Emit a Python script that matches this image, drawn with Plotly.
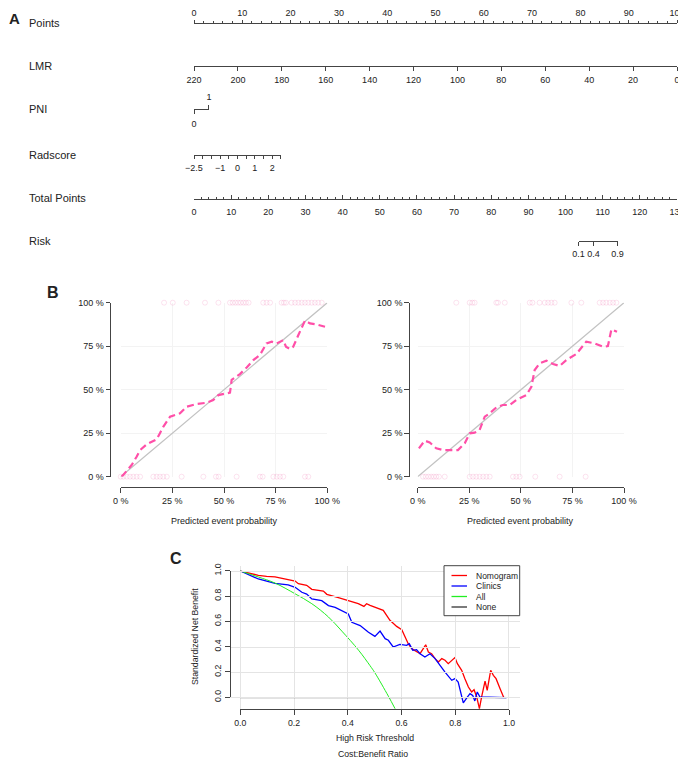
"""Nomogram (A), calibration curves (B) and decision curves (C) drawn with Plotly."""

import plotly.graph_objects as go

# ---------------- data ----------------
# panel A: nomogram scales
nomo_rows = ["Points", "LMR", "PNI", "Radscore", "Total Points", "Risk"]
points_ticks = [0, 10, 20, 30, 40, 50, 60, 70, 80, 90, 100]
lmr_ticks = [220, 200, 180, 160, 140, 120, 100, 80, 60, 40, 20, 0]
lmr_range = [220, 0]  # LMR value sitting at 0 and at 100 points
pni_levels = [0, 1]
pni_points = [0, 3.1]
radscore_ticks = [-2.5, -2, -1.5, -1, -0.5, 0, 0.5, 1, 1.5, 2, 2.5]
radscore_labels = ["−2.5", "", "", "−1", "", "0", "", "1", "", "2", ""]
radscore_points = [0, 18]
total_ticks = [0, 10, 20, 30, 40, 50, 60, 70, 80, 90, 100, 110, 120, 130]
risk_labels = ["0.1", "0.4", "0.9"]
risk_total_points = [103.5, 107.5, 114.0]

# panel B: calibration
cal_ticks = [0, 0.25, 0.5, 0.75, 1]
cal_labels = ["0 %", "25 %", "50 %", "75 %", "100 %"]
ideal = [0, 1]

cal1_x = [0.005, 0.03, 0.053, 0.077, 0.094, 0.126, 0.174, 0.19, 0.206, 0.239,
          0.287, 0.319, 0.368, 0.416, 0.448, 0.473, 0.513, 0.529, 0.537, 0.577,
          0.61, 0.642, 0.674, 0.706, 0.731, 0.755, 0.787, 0.8, 0.819, 0.835,
          0.86, 0.892, 0.916, 0.948, 0.989]
cal1_y = [0.0, 0.038, 0.067, 0.115, 0.153, 0.186, 0.215, 0.25, 0.287, 0.345,
          0.364, 0.402, 0.418, 0.425, 0.44, 0.469, 0.479, 0.483, 0.556, 0.59,
          0.628, 0.67, 0.7, 0.766, 0.776, 0.766, 0.785, 0.747, 0.734, 0.747,
          0.814, 0.897, 0.881, 0.875, 0.862]
cal1_events = [0.21, 0.252, 0.319, 0.408, 0.473, 0.529, 0.542, 0.555, 0.568,
               0.581, 0.594, 0.606, 0.619, 0.69, 0.706, 0.723, 0.779, 0.79,
               0.8, 0.827, 0.844, 0.86, 0.876, 0.892, 0.908, 0.924, 0.94,
               0.956, 0.973]
cal1_nonevents = [0.0, 0.013, 0.029, 0.045, 0.061, 0.077, 0.094, 0.158, 0.174,
                  0.19, 0.206, 0.223, 0.295, 0.4, 0.461, 0.474, 0.561, 0.674,
                  0.687, 0.739, 0.755, 0.771, 0.787, 0.892, 0.908]

cal2_x = [0.006, 0.034, 0.058, 0.09, 0.123, 0.155, 0.195, 0.228, 0.252, 0.276,
          0.3, 0.325, 0.349, 0.381, 0.413, 0.446, 0.478, 0.527, 0.551, 0.567,
          0.591, 0.624, 0.656, 0.688, 0.72, 0.769, 0.817, 0.858, 0.898, 0.922,
          0.939, 0.966]
cal2_y = [0.163, 0.207, 0.197, 0.163, 0.153, 0.153, 0.153, 0.192, 0.249, 0.253,
          0.268, 0.345, 0.364, 0.398, 0.412, 0.412, 0.441, 0.469, 0.517, 0.613,
          0.651, 0.667, 0.648, 0.636, 0.67, 0.705, 0.776, 0.766, 0.747, 0.751,
          0.847, 0.833]
cal2_events = [0.187, 0.252, 0.265, 0.276, 0.381, 0.389, 0.422, 0.543, 0.556,
               0.591, 0.616, 0.632, 0.648, 0.664, 0.745, 0.793, 0.882, 0.898,
               0.914, 0.931, 0.947, 0.963]
cal2_nonevents = [0.026, 0.039, 0.052, 0.065, 0.078, 0.09, 0.103, 0.131, 0.252,
                  0.268, 0.284, 0.3, 0.317, 0.333, 0.349, 0.462, 0.478, 0.494,
                  0.57, 0.688, 0.814]

# panel C: decision curves
dca_ticks = [0, 0.2, 0.4, 0.6, 0.8, 1.0]
dca_labels = ["0.0", "0.2", "0.4", "0.6", "0.8", "1.0"]
dca_names = ["Nomogram", "Clinics", "All", "None"]
dca_colors = ["#ff0000", "#0000ff", "#22ee22", "#333333"]

nomogram_x = [0, 0.048, 0.067, 0.098, 0.129, 0.204, 0.216, 0.247, 0.266, 0.309,
              0.322, 0.365, 0.402, 0.439, 0.46, 0.47, 0.483, 0.501, 0.532, 0.557,
              0.582, 0.601, 0.613, 0.625, 0.638, 0.656, 0.669, 0.681, 0.69, 0.7,
              0.712, 0.725, 0.737, 0.75, 0.762, 0.774, 0.787, 0.799, 0.808,
              0.824, 0.836, 0.849, 0.861, 0.87, 0.88, 0.89, 0.898, 0.911, 0.919,
              0.932, 0.942, 0.952, 0.967, 0.981]
nomogram_y = [1.0, 0.974, 0.966, 0.958, 0.953, 0.921, 0.9, 0.887, 0.855, 0.842,
              0.816, 0.79, 0.769, 0.742, 0.721, 0.742, 0.729, 0.716, 0.69, 0.611,
              0.563, 0.537, 0.479, 0.426, 0.387, 0.36, 0.347, 0.387, 0.418, 0.36,
              0.347, 0.308, 0.281, 0.308, 0.295, 0.268, 0.295, 0.316, 0.268,
              0.216, 0.15, 0.084, 0.045, 0.063, 0.005, -0.087, 0.005, 0.131,
              0.058, 0.216, 0.176, 0.15, 0.071, 0.0]

clinics_x = [0, 0.067, 0.129, 0.178, 0.204, 0.229, 0.247, 0.266, 0.303, 0.328,
             0.353, 0.378, 0.402, 0.415, 0.446, 0.477, 0.488, 0.501, 0.52, 0.539,
             0.551, 0.569, 0.594, 0.619, 0.629, 0.642, 0.656, 0.669, 0.687,
             0.706, 0.725, 0.743, 0.762, 0.787, 0.799, 0.811, 0.82, 0.83, 0.845,
             0.855, 0.865, 0.873, 0.882, 0.892, 0.991]
clinics_y = [1.0, 0.937, 0.903, 0.89, 0.871, 0.832, 0.818, 0.779, 0.766, 0.727,
             0.713, 0.687, 0.661, 0.595, 0.569, 0.516, 0.5, 0.484, 0.526, 0.466,
             0.453, 0.4, 0.421, 0.413, 0.426, 0.374, 0.379, 0.347, 0.321, 0.347,
             0.308, 0.255, 0.202, 0.137, 0.15, 0.123, 0.045, -0.042, 0.005,
             0.032, 0.018, -0.026, 0.045, 0.005, 0.0]

all_x = [0, 0.067, 0.129, 0.204, 0.266, 0.328, 0.378, 0.44, 0.483, 0.501, 0.551, 0.576]
all_y = [1.0, 0.953, 0.905, 0.82, 0.742, 0.637, 0.525, 0.375, 0.252, 0.196, 0.012, -0.087]

none_x = [0, 0.99]
none_y = [0, 0]

# ---------------- geometry / style ----------------
# positions below are measured on the 686x760 page; the page body adds an
# 8px margin, so the figure itself is a bit smaller and shifted back by it
PAGE_W, PAGE_H = 686, 760
OFF = 8
W, H = PAGE_W - OFF, PAGE_H - OFF
FONT = "Arial, Liberation Sans, sans-serif"
NARROW = "Liberation Sans Narrow, Arial Narrow, Liberation Sans, sans-serif"
INK = "#444444"
TEXT = "#222222"
PINK = "#ff4fa8"
RUG = "rgba(240, 110, 175, 0.22)"

NOMO_LEFT, NOMO_RIGHT = 194, 677
ROW_Y = [23, 66, 109, 154.5, 198.5, 241]


def fx(x_px):
    return (x_px - OFF) / W


def fy(y_px):
    return 1 - (y_px - OFF) / H


def nomo_x(points, full=100):
    return NOMO_LEFT + (NOMO_RIGHT - NOMO_LEFT) * points / full


def scale_axis(**kw):
    ax = dict(showline=True, linecolor=INK, linewidth=1, ticks="outside",
              tickcolor=INK, tickwidth=1, ticklen=4, showgrid=False,
              zeroline=False, fixedrange=True, anchor="free", tickmode="array",
              automargin=False, tickangle=0,
              tickfont=dict(family=FONT, size=9, color=TEXT))
    ax.update(kw)
    return ax


def hook(xa, ya):
    # invisible trace so that every free axis gets a subplot
    return go.Scatter(x=[None], y=[None], xaxis=xa, yaxis=ya, mode="markers",
                      showlegend=False, hoverinfo="skip")


def text(x_px, y_px, s, size=9, **kw):
    a = dict(x=fx(x_px), y=fy(y_px), xref="paper", yref="paper", text=s,
             showarrow=False, font=dict(family=FONT, size=size, color=TEXT),
             xanchor="center", yanchor="middle")
    a.update(kw)
    return a


fig = go.Figure()
fig.add_trace(hook("x", "y"))
for i in range(2, 9):
    fig.add_trace(hook(f"x{i}", "y"))

# ---------------- panel B traces ----------------
cal_panels = [
    ("x9", "y9", cal1_x, cal1_y, cal1_events, cal1_nonevents),
    ("x10", "y10", cal2_x, cal2_y, cal2_events, cal2_nonevents),
]
for xa, ya, cx, cy, ev, nev in cal_panels:
    fig.add_trace(go.Scatter(x=ideal, y=ideal, xaxis=xa, yaxis=ya, mode="lines",
                             line=dict(color="#c2c2c2", width=1.3),
                             showlegend=False, hoverinfo="skip"))
    for xs, outcome in ((ev, 1), (nev, 0)):
        fig.add_trace(go.Scatter(
            x=xs, y=[outcome] * len(xs), xaxis=xa, yaxis=ya, mode="markers",
            marker=dict(symbol="circle-open", size=5, color=RUG,
                        line=dict(width=0.9, color=RUG)),
            cliponaxis=False, showlegend=False, hoverinfo="skip"))
    fig.add_trace(go.Scatter(x=cx, y=cy, xaxis=xa, yaxis=ya, mode="lines",
                             line=dict(color=PINK, width=2.2, dash="7px,4px"),
                             cliponaxis=False, showlegend=False))

# ---------------- panel C traces ----------------
dca_series = [(nomogram_x, nomogram_y, 1.3), (clinics_x, clinics_y, 1.3),
              (all_x, all_y, 1.0), (none_x, none_y, 1.0)]
for (sx, sy, lw), name, color in zip(dca_series, dca_names, dca_colors):
    fig.add_trace(go.Scatter(x=sx, y=sy, xaxis="x11", yaxis="y11", mode="lines",
                             name=name, line=dict(color=color, width=lw),
                             line_shape="spline" if name == "All" else "linear",
                             showlegend=False))
fig.add_trace(hook("x12", "y11"))
fig.add_trace(hook("x11", "y12"))

# ---------------- axes ----------------
full_dom = [fx(nomo_x(0)), fx(nomo_x(100))]
hidden = dict(visible=False, domain=[0, 1], range=[0, 1], fixedrange=True,
              automargin=False)
axes = dict(
    xaxis=dict(hidden),
    yaxis=dict(hidden),
    # Points (labels pulled close to the line so they stay inside the page)
    xaxis2=scale_axis(domain=full_dom, range=[points_ticks[0], points_ticks[-1]],
                      position=fy(ROW_Y[0]), side="top", tickvals=points_ticks,
                      ticklen=3.5, ticklabelstandoff=0,
                      minor=dict(ticks="outside", tick0=0, dtick=2, ticklen=2,
                                 tickcolor=INK)),
    # LMR
    xaxis3=scale_axis(domain=full_dom, range=lmr_range, position=fy(ROW_Y[1]),
                      side="bottom", tickvals=lmr_ticks, ticklabelstandoff=1),
    # PNI (tick down at 0, tick up at 1)
    xaxis4=scale_axis(domain=[fx(nomo_x(pni_points[0])), fx(nomo_x(pni_points[1]))],
                      range=pni_levels, position=fy(ROW_Y[2]), side="bottom",
                      tickvals=[pni_levels[0]], ticktext=[str(pni_levels[0])],
                      ticklabelstandoff=2),
    xaxis5=scale_axis(domain=[fx(nomo_x(pni_points[0])), fx(nomo_x(pni_points[1]))],
                      range=pni_levels, position=fy(ROW_Y[2]), side="top",
                      tickvals=[pni_levels[1]], ticktext=[str(pni_levels[1])],
                      ticklabelstandoff=1),
    # Radscore
    xaxis6=scale_axis(domain=[fx(nomo_x(radscore_points[0])),
                              fx(nomo_x(radscore_points[1]))],
                      range=[radscore_ticks[0], radscore_ticks[-1]],
                      position=fy(ROW_Y[3]), side="bottom", ticklen=3.5,
                      tickvals=radscore_ticks, ticktext=radscore_labels,
                      ticklabelstandoff=1),
    # Total Points
    xaxis7=scale_axis(domain=full_dom, range=[total_ticks[0], total_ticks[-1]],
                      position=fy(ROW_Y[4]), side="bottom", ticks="inside",
                      ticklen=3.5, tickvals=total_ticks, ticklabelstandoff=5,
                      tickfont=dict(family=NARROW, size=9, color=TEXT),
                      minor=dict(ticks="inside", tick0=0, dtick=2, ticklen=2,
                                 tickcolor=INK)),
    # Risk
    xaxis8=scale_axis(domain=[fx(nomo_x(risk_total_points[0], total_ticks[-1])),
                              fx(nomo_x(risk_total_points[-1], total_ticks[-1]))],
                      range=[risk_total_points[0], risk_total_points[-1]],
                      position=fy(ROW_Y[5]), side="bottom", ticklen=3.5,
                      tickvals=risk_total_points, ticktext=risk_labels,
                      ticklabelstandoff=1),
)

cal_geom = [("9", 120.7, 327.3, 110), ("10", 417.7, 624, 408.7)]
for n, left, right, yline in cal_geom:
    axes["xaxis" + n] = scale_axis(domain=[fx(left), fx(right)], range=[0, 1],
                                   position=fy(487), tickvals=cal_ticks,
                                   ticktext=cal_labels, ticklen=5,
                                   showgrid=True, gridcolor="#f3f3f3")
    axes["yaxis" + n] = scale_axis(domain=[fy(476.7), fy(302.7)], range=[0, 1],
                                   position=fx(yline), tickvals=cal_ticks,
                                   ticktext=cal_labels, ticklen=4.5,
                                   showgrid=True, gridcolor="#f3f3f3")

grid_c = dict(showline=False, ticks="", showticklabels=False, showgrid=True,
              gridcolor="#e4e4e4", tickmode="array", tickvals=dca_ticks,
              zeroline=False, fixedrange=True, automargin=False)
axes["xaxis11"] = dict(grid_c, domain=[fx(229.6), fx(519.7)],
                       range=[-0.04, 1.04], anchor="y11")
axes["yaxis11"] = dict(grid_c, domain=[fy(709.3), fy(565.7)],
                       range=[-0.092, 1.042], anchor="x11")
axes["xaxis12"] = scale_axis(domain=[fx(240.3), fx(509)], range=[0, 1],
                             position=fy(709.3), tickvals=dca_ticks,
                             ticktext=dca_labels, ticklen=5,
                             tickfont=dict(family=FONT, size=8.7, color=TEXT))
axes["yaxis12"] = scale_axis(domain=[fy(697.3), fy(570.7)], range=[0, 1],
                             position=fx(229.6), tickvals=dca_ticks,
                             ticktext=dca_labels, ticklen=5, tickangle=-90,
                             tickfont=dict(family=FONT, size=8.7, color=TEXT))

# ---------------- text ----------------
notes = [
    text(14, 18.5, "<b>A</b>", 15),
    text(53, 293, "<b>B</b>", 16),
    text(176, 558, "<b>C</b>", 16),
    text(224, 521, "Predicted event probability", 9),
    text(520, 521, "Predicted event probability", 9),
    text(375, 737.5, "High Risk Threshold", 8.7),
    text(373, 753.5, "Cost:Benefit Ratio", 8.7),
    text(195, 637, "Standardized Net Benefit", 8.7, textangle=-90),
]
for label, y in zip(nomo_rows, ROW_Y):
    notes.append(text(27, y, label, 11, xanchor="left"))

# hand-drawn legend box for panel C (R-style)
LEG_L, LEG_R, LEG_T, LEG_B = 444, 519.7, 565.7, 615.7
LEG_ROWS = [575.5, 586, 596.5, 607]
shapes = [dict(type="rect", xref="paper", yref="paper", x0=fx(LEG_L), x1=fx(LEG_R),
               y0=fy(LEG_B), y1=fy(LEG_T), line=dict(color=INK, width=1),
               fillcolor="white", layer="above")]
for name, color, y in zip(dca_names, dca_colors, LEG_ROWS):
    shapes.append(dict(type="line", xref="paper", yref="paper", x0=fx(451.5),
                       x1=fx(467), y0=fy(y), y1=fy(y), layer="above",
                       line=dict(color=color, width=1.3)))
    notes.append(text(473.5, y, name, 8.5, xanchor="left"))

fig.update_layout(
    width=W, height=H,
    margin=dict(l=0, r=0, t=0, b=0),
    paper_bgcolor="white",
    plot_bgcolor="rgba(0,0,0,0)",
    showlegend=False,
    annotations=notes,
    shapes=shapes,
    font=dict(family=FONT, color=TEXT),
    **axes,
)

fig.write_html("out.html")
